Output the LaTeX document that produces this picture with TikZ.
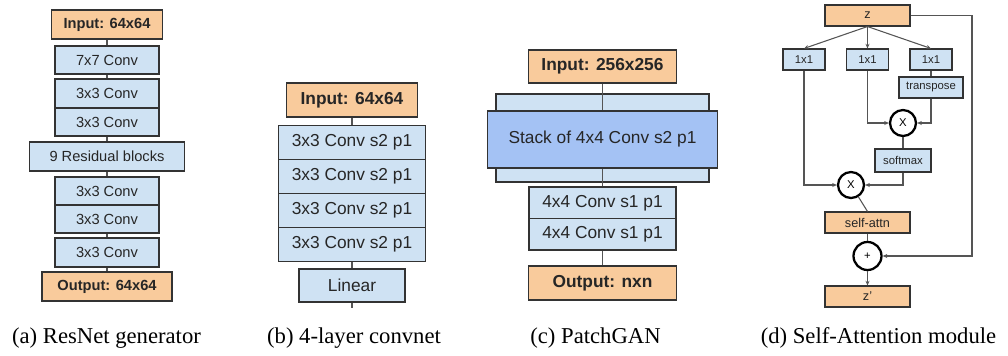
\documentclass[tikz,border=0pt]{standalone}
\usepackage{fontspec}
\setmainfont{Liberation Serif}
\setsansfont{Liberation Sans}
\usetikzlibrary{arrows.meta,positioning,calc}
\definecolor{ioorange}{HTML}{F9CB9C}
\definecolor{convblue}{HTML}{CFE2F3}
\definecolor{stackblue}{HTML}{A4C2F4}
\definecolor{edgegray}{HTML}{333333}
\definecolor{wiregray}{HTML}{555555}

\begin{document}
\begin{tikzpicture}[x=0.75pt, y=-0.75pt,
    convbox/.style 2 args={rectangle, draw=edgegray, line width=1.1pt, fill=convblue, text=black!85,
        minimum width=#1*0.75pt, minimum height=#2*0.75pt, inner sep=0pt},
    iobox/.style 2 args={convbox={#1}{#2}, fill=ioorange, execute at begin node=\bfseries},
    attnbox/.style 2 args={convbox={#1}{#2}, line width=0.8pt},
    attnio/.style 2 args={attnbox={#1}{#2}, fill=ioorange, execute at begin node=\fontsize{9.5}{11}\selectfont},
    op/.style={circle, draw=black, line width=1.7pt, fill=white, minimum size=19.5pt, inner sep=0pt},
    link/.style={draw=wiregray, line width=0.8pt},
    arr/.style={link, -{Stealth[length=3.5pt, width=3pt]}},
    caption/.style={anchor=base, font=\rmfamily\fontsize{17}{20}\selectfont}
]
    \useasboundingbox (0,0) rectangle (1008,355);

    % (a) ResNet generator
    \begin{scope}[font=\sffamily\fontsize{11}{13}\selectfont]
        \node[iobox={111}{29}] (ain) at (107,24.5) {Input: 64x64};
        \node[convbox={104}{28}] (a1) at (107,60) {7x7 Conv};
        \node[convbox={104}{29}] (a2) at (107,93.5) {3x3 Conv};
        \node[convbox={104}{28}] (a3) at (107,122) {3x3 Conv};
        \node[convbox={155}{29}] (ares) at (107,156.5) {9 Residual blocks};
        \node[convbox={104}{28}] (a4) at (107,191) {3x3 Conv};
        \node[convbox={104}{28}] (a5) at (107,219) {3x3 Conv};
        \node[convbox={104}{29}] (a6) at (107,252.5) {3x3 Conv};
        \node[iobox={130}{29}] (aout) at (107,286.5) {Output: 64x64};
        \foreach \u/\v in {ain/a1, a1/a2, a3/ares, ares/a4, a5/a6, a6/aout}
            \draw[link] (\u.south) -- (\v.north);
    \end{scope}

    % (b) 4-layer convnet
    \begin{scope}[font=\sffamily\fontsize{13}{15}\selectfont]
        \node[iobox={131}{34}] (bin) at (352,100) {Input: 64x64};
        \foreach \i/\y in {1/142.5, 2/176.5, 3/210.5, 4/244.5}
            \node[convbox={147}{34}] (b\i) at (352,\y) {3x3 Conv s2 p1};
        \node[convbox={106}{33}] (blin) at (352,285.5) {Linear};
        \coordinate (bend) at (352,308);
        \draw[link] (bin.south) -- (b1.north);
        \draw[link] (b4.south) -- (blin.north);
        \draw[link] (blin.south) -- (bend);
    \end{scope}

    % (c) PatchGAN
    \begin{scope}[font=\sffamily\fontsize{13}{15}\selectfont]
        \node[convbox={213}{88}] (cback) at (602.5,138) {};
        \node[iobox={148}{33}] (cin) at (602.5,66.5) {Input: 256x256};
        \node[convbox={230}{57}, fill=stackblue] (cstack) at (602.5,139.5) {Stack of 4x4 Conv s2 p1};
        \node[convbox={147}{31.5}] (c1) at (602.5,202.75) {4x4 Conv s1 p1};
        \node[convbox={147}{31.5}] (c2) at (602.5,234.25) {4x4 Conv s1 p1};
        \node[iobox={148}{34}] (cout) at (602.5,283) {Output: nxn};
        \draw[link] (cin.south) -- (cstack.north);
        \draw[link] (cstack.south) -- (c1.north);
        \draw[link] (c2.south) -- (cout.north);
    \end{scope}

    % (d) Self-Attention module
    \begin{scope}[font=\sffamily\fontsize{8.5}{10}\selectfont]
        \node[attnio={85}{21}] (z) at (867.5,15.5) {z};
        \node[attnbox={42}{21}] (f) at (804,59.5) {1x1};
        \node[attnbox={42}{21}] (g) at (867.5,59.5) {1x1};
        \node[attnbox={42}{21}] (h) at (931,59.5) {1x1};
        \node[attnbox={64}{21}] (tr) at (931,87.5) {transpose};
        \node[op] (m1) at (903,123) {X};
        \node[attnbox={56}{23}] (sm) at (903,160.5) {softmax};
        \node[op] (m2) at (851,185) {X};
        \node[attnio={85}{21}] (sa) at (867.5,222.5) {self-attn};
        \node[op, minimum size=21pt] (add) at (867.5,256) {+};
        \node[attnio={85}{21}] (zo) at (867.5,296.5) {z'};
        \coordinate (skip) at (972,15.5);

        \foreach \t in {f, g, h}
            \draw[arr] (z.south) -- (\t.north);
        \draw[arr] (f.south) |- (m2.west);
        \draw[arr] (g.south) |- (m1.west);
        \draw[link] (h.south) -- (tr.north);
        \draw[arr] (tr.south) |- (m1.east);
        \draw[link] (m1.south) -- (sm.north);
        \draw[arr] (sm.south) |- (m2.east);
        \draw[link] (m2) -- (sa.north);
        \draw[link] (sa.south) -- (add.north);
        \draw[arr] (add.south) -- (zo.north);
        \draw[arr] (z.east) -- (skip) |- (add.east);
    \end{scope}

    % captions
    \node[caption] (capa) at (106.5,343) {(a) ResNet generator};
    \node[caption] (capb) at (354,343) {(b) 4-layer convnet};
    \node[caption] (capc) at (595.5,343) {(c) PatchGAN};
    \node[caption] (capd) at (878.5,343) {(d) Self-Attention module};
\end{tikzpicture}
\end{document}
